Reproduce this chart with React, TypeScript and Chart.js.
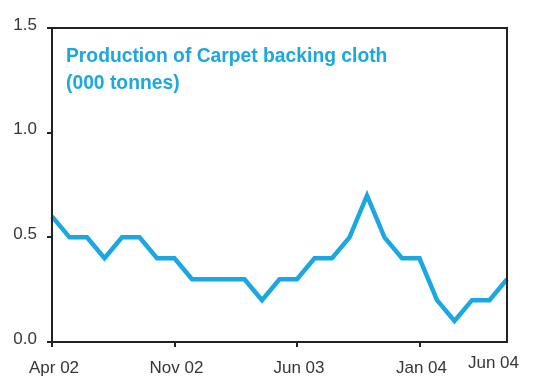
import React, { useEffect, useRef } from "react";
import { Chart, registerables } from "chart.js";

Chart.register(...registerables);

const months = [
  "Apr 02", "May 02", "Jun 02", "Jul 02", "Aug 02", "Sep 02", "Oct 02", "Nov 02", "Dec 02",
  "Jan 03", "Feb 03", "Mar 03", "Apr 03", "May 03", "Jun 03", "Jul 03", "Aug 03", "Sep 03",
  "Oct 03", "Nov 03", "Dec 03", "Jan 04", "Feb 04", "Mar 04", "Apr 04", "May 04", "Jun 04",
];

const production = [
  0.6, 0.5, 0.5, 0.4, 0.5, 0.5, 0.4, 0.4, 0.3,
  0.3, 0.3, 0.3, 0.2, 0.3, 0.3, 0.4, 0.4, 0.5,
  0.7, 0.5, 0.4, 0.4, 0.2, 0.1, 0.2, 0.2, 0.3,
];

const xTickLabels = ["Apr 02", "Nov 02", "Jun 03", "Jan 04", "Jun 04"];
const xTickMarks = ["Apr 02", "Nov 02", "Jun 03", "Jan 04"];
const yTicks = [0, 0.5, 1.0, 1.5];

const titleLines = ["Production of Carpet backing cloth", "(000 tonnes)"];

const FONT = "'Liberation Sans', Arial, Helvetica, sans-serif";
const BLUE = "#1ba7e1";
const AXIS = "#222222";
const TEXT = "#363636";

export default function App() {
  const canvasRef = useRef<HTMLCanvasElement | null>(null);

  useEffect(() => {
    document.body.style.margin = "0";
    const canvas = canvasRef.current;
    if (!canvas) return;

    const overlay = {
      id: "overlay",
      afterDraw(chart: any) {
        const { ctx, chartArea } = chart;
        const { left, top, right, bottom } = chartArea;
        ctx.save();
        // box
        ctx.strokeStyle = AXIS;
        ctx.lineWidth = 2;
        ctx.strokeRect(left, top, right - left, bottom - top);
        // title
        ctx.fillStyle = BLUE;
        ctx.font = `bold 19.3px ${FONT}`;
        ctx.textAlign = "left";
        ctx.textBaseline = "alphabetic";
        titleLines.forEach((t, i) => {
          ctx.fillText(t, left + 14, top + 34 + i * 27);
        });
        // x tick labels
        const xs = chart.scales.x;
        ctx.fillStyle = TEXT;
        ctx.font = `17px ${FONT}`;
        xTickLabels.forEach((lab, i) => {
          const idx = months.indexOf(lab);
          const x = xs.getPixelForValue(idx);
          if (i === xTickLabels.length - 1) {
            ctx.textAlign = "right";
            ctx.fillText(lab, x + 12, bottom + 26);
          } else {
            ctx.textAlign = "center";
            ctx.fillText(lab, x + 2, bottom + 31);
          }
        });
        ctx.restore();
      },
    };

    const chart = new Chart(canvas, {
      type: "line",
      data: {
        labels: months,
        datasets: [
          {
            data: production,
            borderColor: BLUE,
            borderWidth: 4.5,
            pointRadius: 0,
            tension: 0,
            fill: false,
          },
        ],
      },
      options: {
        animation: false,
        responsive: true,
        maintainAspectRatio: false,
        layout: { padding: { top: 28, right: 41, left: 0, bottom: 0 } },
        plugins: { legend: { display: false }, tooltip: { enabled: false }, title: { display: false } },
        scales: {
          x: {
            type: "category",
            offset: false,
            afterFit: (s: any) => {
              s.height = 34;
            },
            grid: {
              drawOnChartArea: false,
              drawTicks: true,
              tickLength: 5,
              lineWidth: 2,
              color: (c: any) =>
                c.tick && xTickMarks.includes(months[c.index]) ? AXIS : "rgba(0,0,0,0)",
            },
            border: { display: true, color: AXIS, width: 2 },
            ticks: { display: false, autoSkip: false },
          },
          y: {
            min: 0,
            max: 1.5,
            afterFit: (s: any) => {
              s.width = 52;
            },
            afterBuildTicks: (s: any) => {
              s.ticks = yTicks.map((v) => ({ value: v }));
            },
            grid: {
              drawOnChartArea: false,
              drawTicks: true,
              tickLength: 5,
              lineWidth: 2,
              color: AXIS,
            },
            border: { display: true, color: AXIS, width: 2 },
            ticks: {
              color: TEXT,
              font: { family: FONT, size: 17 },
              padding: 10,
              labelOffset: -3,
              callback: (v: any) => Number(v).toFixed(1),
            },
          },
        },
      },
      plugins: [overlay],
    });

    return () => chart.destroy();
  }, []);

  return (
    <div style={{ width: 548, height: 376, position: "relative", background: "#fff" }}>
      <canvas ref={canvasRef} />
    </div>
  );
}
